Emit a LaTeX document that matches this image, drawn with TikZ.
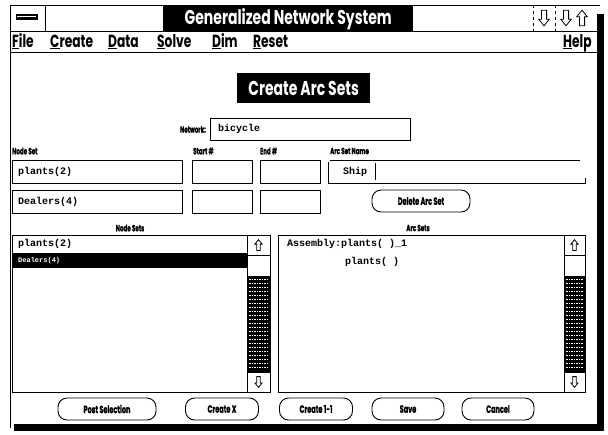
\documentclass[tikz,border=0pt]{standalone}
\usepackage{fontspec}
\newfontfamily\ui[FakeStretch=0.7]{Poppins}
\newfontfamily\uiheavy[FakeStretch=0.62,FakeBold=1.2]{Poppins}
\newfontfamily\mono{Liberation Mono}
\begin{document}
\begin{tikzpicture}[x=1pt,y=-1pt,
  field/.style={draw,line width=0.8pt,inner sep=0pt,anchor=north west},
  btn/.style={draw,line width=0.9pt,rounded corners=9pt,inner sep=0pt,
    font=\uiheavy\bfseries\fontsize{10.5}{11}\selectfont},
  lbl/.style={font=\uiheavy\bfseries\fontsize{9}{10}\selectfont,inner sep=0pt},
  menu/.style={font=\ui\bfseries\fontsize{17.5}{19}\selectfont,anchor=base west,inner sep=0pt},
  mtext/.style={font=\mono\bfseries\fontsize{10}{11}\selectfont,anchor=west,inner sep=0pt},
  heading/.style={fill=black,text=white,inner sep=0pt,
    font=\ui\bfseries\fontsize{20}{22}\selectfont},
  rule/.style={line width=0.8pt},
  uparr/.pic={\draw[line width=0.8pt,fill=white] (0,-6) -- (4,-1) -- (2,-1) -- (2,6) -- (-2,6) -- (-2,-1) -- (-4,-1) -- cycle;},
  hatch/.style={white,line width=0.7pt,dash pattern=on 1.5pt off 1pt}
]
\useasboundingbox (0,0) rectangle (608,434);
\fill[white] (0,0) rectangle (608,434);

% window frame
\draw[rule] (10,5) -- (600,5);
\draw[line width=1pt] (10,5) -- (10,428);
\fill[black] (597,14) rectangle (604,431);
\fill[black] (14,424) rectangle (604,431);
\draw[rule] (10,31) -- (597,31);
\draw[rule] (10,52) -- (597,52);

% title bar
\node[draw,line width=0.8pt,minimum width=35pt,minimum height=26pt,anchor=north west,inner sep=0pt] (sysbox) at (10,5) {};
\fill[black] (16,14) rectangle (38,20);
\draw[white,line width=0.6pt] (17,16) -- (36,16);
\node[heading,minimum width=250pt,minimum height=25pt,anchor=north west] (title) at (163,6) {Generalized Network System};
\draw[dashed,line width=0.6pt] (533,5) -- (533,31);
\draw[dashed,line width=0.6pt] (555,5) -- (555,31);
\pic[rotate=180,scale=1.3] at (544,18) {uparr};
\pic[rotate=180,scale=1.3] at (566,18) {uparr};
\pic[scale=1.3] at (582,18) {uparr};

% menu bar
\node[menu] (mfile) at (12,47) {\underline{F}ile};
\node[menu] (mcreate) at (50,47) {\underline{C}reate};
\node[menu] (mdata) at (108,47) {\underline{D}ata};
\node[menu] (msolve) at (157,47) {\underline{S}olve};
\node[menu] (mdim) at (212,47) {\underline{D}im};
\node[menu] (mreset) at (253,47) {\underline{R}eset};
\node[menu] (mhelp) at (563,47) {\underline{H}elp};

% dialog heading
\node[heading,minimum width=133pt,minimum height=30pt,anchor=north west] (dlg) at (237,73) {Create Arc Sets};

% network field
\node[field,minimum width=200pt,minimum height=22pt] (net) at (210,118) {};
\node[lbl,anchor=east] (netlbl) at ([xshift=-4pt]net.west) {Network:};
\node[mtext] (netval) at ([xshift=8pt]net.west) {bicycle};

% column labels
\node[lbl,anchor=west] (lnode) at (12,151) {Node Set};
\node[lbl,anchor=west] (lstart) at (193,151) {Start \#};
\node[lbl,anchor=west] (lend) at (260,151) {End \#};
\node[lbl,anchor=west] (lname) at (330,151) {Arc Set Name};

% first row of fields
\node[field,minimum width=170pt,minimum height=23pt] (ns1) at (12,160) {};
\node[mtext] at ([xshift=6pt]ns1.west) {plants(2)};
\node[field,minimum width=60pt,minimum height=23pt] (st1) at (192,160) {};
\node[field,minimum width=60pt,minimum height=23pt] (en1) at (260,160) {};
\draw[rule] (330,160) -- (580,160);
\draw[rule] (328,162) -- (328,183) -- (585,183) -- (585,178);
\node[mtext] (shiptxt) at (343,171.5) {Ship};
\draw[line width=0.8pt] (375,163) -- (375,180);

% second row of fields
\node[field,minimum width=170pt,minimum height=23pt] (ns2) at (12,190) {};
\node[mtext] at ([xshift=6pt]ns2.west) {Dealers(4)};
\node[field,minimum width=60pt,minimum height=23pt] (st2) at (192,190) {};
\node[field,minimum width=60pt,minimum height=23pt] (en2) at (260,190) {};
\node[btn,minimum width=98pt,minimum height=22pt] (delbtn) at (421,201) {Delete Arc Set};

% list headings
\node[lbl] (lns) at (130,228) {Node Sets};
\node[lbl] (las) at (418,228) {Arc Sets};

% node set list
\node[field,minimum width=258pt,minimum height=157pt] (nlist) at (12,235) {};
\node[mtext] at (18,244) {plants(2)};
\fill[black] (12,253) rectangle (247,268);
\node[mtext,text=white,font=\mono\bfseries\fontsize{7}{8}\selectfont] at (18,260.5) {Dealers(4)};
\draw[rule] (247,235) -- (247,392);
\draw[rule] (247,255) -- (270,255);
\fill[black] (247,276) rectangle (270,372);
\foreach \yy in {279,283,...,369} \draw[hatch] (249,\yy) -- (268,\yy);
\draw[rule] (247,372) -- (270,372);
\pic[scale=0.9] at (258.5,245) {uparr};
\pic[rotate=180,scale=0.9] at (258.5,382) {uparr};

% arc set list
\node[field,minimum width=307pt,minimum height=157pt] (alist) at (278,235) {};
\node[mtext] at (287,244) {Assembly:plants( )\_1};
\node[mtext] at (345,262) {plants( )};
\draw[rule] (564,235) -- (564,392);
\draw[rule] (564,255) -- (585,255);
\fill[black] (564,276) rectangle (585,372);
\foreach \yy in {279,283,...,369} \draw[hatch] (566,\yy) -- (583,\yy);
\draw[rule] (564,372) -- (585,372);
\pic[scale=0.9] at (574.5,245) {uparr};
\pic[rotate=180,scale=0.9] at (574.5,382) {uparr};

% bottom buttons
\node[btn,minimum width=98pt,minimum height=22pt] (bpost) at (107,409) {Post Selection};
\node[btn,minimum width=73pt,minimum height=22pt] (bcx) at (222,409) {Create X};
\node[btn,minimum width=73pt,minimum height=22pt] (bc11) at (316,409) {Create 1-1};
\node[btn,minimum width=72pt,minimum height=22pt] (bsave) at (408,409) {Save};
\node[btn,minimum width=72pt,minimum height=22pt] (bcancel) at (498,409) {Cancel};
\end{tikzpicture}
\end{document}
